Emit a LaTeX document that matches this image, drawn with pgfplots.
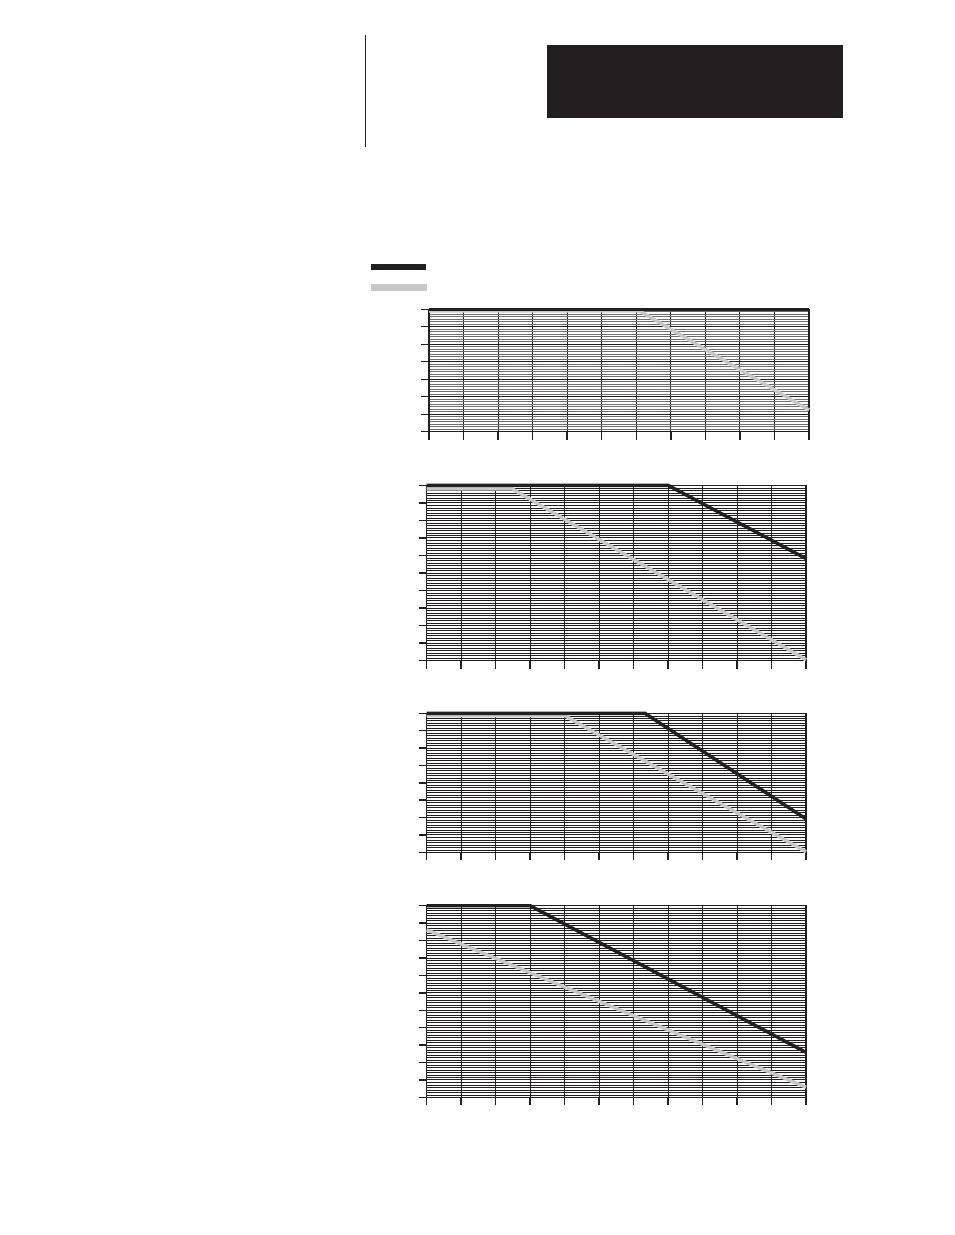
\documentclass[border=0pt]{standalone}
\usepackage{pgfplots}
\pgfplotsset{compat=1.18}
\definecolor{ink}{RGB}{35,31,32}
\definecolor{derate}{RGB}{200,200,200}
\pgfplotsset{
  derating/.style={
    scale only axis, anchor=south west,
    xmin=0, xmax=11, ymin=0,
    xtick={0,...,11}, xticklabels={}, yticklabels={},
    xtick pos=bottom, ytick pos=left,
    tick align=outside, major tick length=4pt, minor tick length=0pt,
    every tick/.style={ink, line width=0.7pt},
    minor y tick num=6,
    xmajorgrids, ymajorgrids, yminorgrids,
    major grid style={ink, line width=0.45pt},
    minor grid style={ink, line width=0.3pt},
    axis line style={ink, line width=0.6pt},
    clip=false,
  },
  rated/.style={ink, line width=1.7pt},
  reduced/.style={derate, line width=1.7pt},
}
\begin{document}
\begin{tikzpicture}[x=0.5pt,y=-0.5pt]
\useasboundingbox (0,0) rectangle (954,1235);
% page furniture
\draw[ink, line width=0.6pt] (365.3,35) -- (365.3,147.3);
\fill[ink] (547,45) rectangle (843,117.7);
% legend swatches
\fill[ink] (371,264) rectangle (426,270);
\fill[derate] (371,284.3) rectangle (427,290.7);

\coordinate (a1) at (429,431.7);
\coordinate (a2) at (426.7,660.7);
\coordinate (a3) at (426.7,852.3);
\coordinate (a4) at (426.7,1097.3);

% chart 1
\begin{axis}[derating, at={(a1)}, width=190pt, height=61.2pt,
  ymax=7, ytick={0,...,7},
  minor grid style={ink!65, line width=0.3pt}]
  \addplot[reduced] coordinates {(0,6.9) (6.1,6.9) (11,1.24)};
  \addplot[rated] coordinates {(0,7) (11,7)};
\end{axis}

% chart 2
\begin{axis}[derating, at={(a2)}, width=189.65pt, height=87.7pt,
  ymax=10, ytick={0,...,10}]
  \addplot[reduced] coordinates {(0,9.8) (2.48,9.8) (11,0.05)};
  \addplot[rated] coordinates {(0,10) (7,10) (11,5.82)};
\end{axis}

% chart 3
\begin{axis}[derating, at={(a3)}, width=189.65pt, height=69.5pt,
  ymax=8, ytick={0,...,8}]
  \addplot[reduced] coordinates {(0,7.87) (4,7.87) (11,0.03)};
  \addplot[rated] coordinates {(0,8) (6.33,8) (11,1.92)};
\end{axis}

% chart 4
\begin{axis}[derating, at={(a4)}, width=189.65pt, height=95.8pt,
  ymax=11, ytick={0,...,11}]
  \addplot[reduced] coordinates {(0,9.62) (11,0.58)};
  \addplot[rated] coordinates {(0,11) (3,11) (11,2.58)};
\end{axis}
\end{tikzpicture}
\end{document}
